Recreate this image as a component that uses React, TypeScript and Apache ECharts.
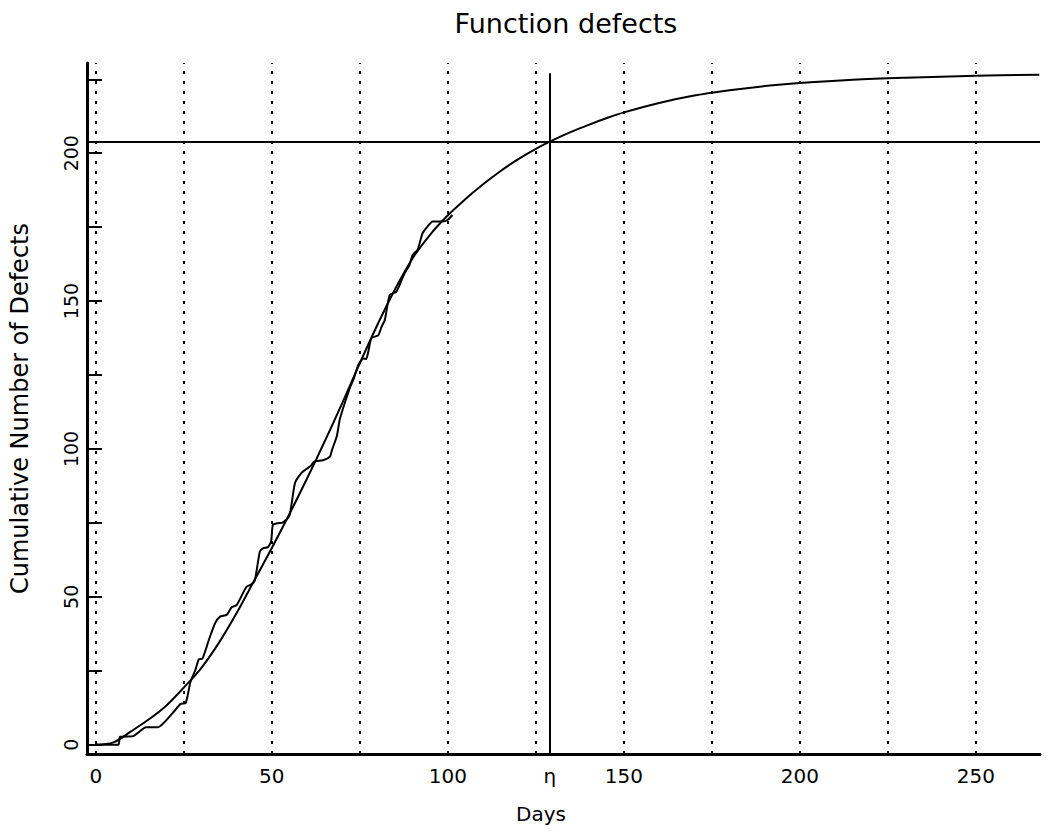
import React, { useEffect, useRef } from "react";
import * as echarts from "echarts";

// Fitted reliability-growth curve
const fitDays = [0, 5, 10, 15, 20, 25, 30, 35, 40, 45, 50, 55, 60, 65, 70, 75, 80, 85, 90, 95, 100, 105, 110, 115, 120, 125, 130, 135, 140, 145, 150, 160, 170, 180, 190, 200, 215, 230, 250, 268];
const fitDefects = [0, 0.8, 4.5, 8.5, 13.2, 19.3, 26, 34.5, 44.5, 55.5, 66.5, 78, 90, 102.5, 115.5, 129, 142, 154, 164.5, 172.5, 179, 184.5, 189.5, 194, 198, 201.5, 204.5, 207.2, 209.6, 211.8, 213.8, 217, 219.5, 221.3, 222.7, 223.7, 224.8, 225.5, 226.2, 226.5];

// Observed cumulative defects
const obsDays = [0, 6.4, 6.9, 10.6, 14.3, 17.6, 22.2, 24.1, 25.5, 26.9, 28.3, 29.3, 30.2, 32.1, 33.9, 35.3, 37.2, 38.6, 40, 42.8, 44.2, 45.2, 46.6, 47.5, 48.9, 49.8, 50.3, 51.7, 53.1, 55, 56.6, 58.5, 61.1, 62, 64.5, 66.5, 67.1, 68.5, 69.3, 70.9, 72.3, 73.2, 74.6, 76, 76.8, 77.4, 78.3, 80.2, 81.2, 82.1, 83.5, 85.4, 87.7, 89.1, 90, 91.4, 92.8, 94.2, 95.7, 98.5, 99.9, 101.3];
const obsDefects = [0, 0, 2.7, 2.9, 5.9, 5.9, 11.2, 13.8, 14, 21.3, 25.3, 28.9, 29, 35.4, 41.1, 43.3, 43.9, 46.5, 47.2, 53.4, 54.2, 55.7, 65.3, 66.4, 66.8, 68.7, 74.3, 74.9, 75.1, 77.4, 88.6, 92, 94.3, 95.7, 96.2, 97.4, 99.7, 104.5, 110, 116.2, 121.1, 123.5, 128.5, 130.6, 130.4, 132.9, 137.5, 138.4, 141.4, 143.6, 152.1, 153.2, 159.4, 162.2, 165.6, 167.3, 172.9, 175.2, 176.9, 176.9, 177.4, 179.1];

const gridDays = [0, 25, 50, 75, 100, 125, 150, 175, 200, 225, 250];
const xLabelValues = [0, 50, 100, 129, 150, 200, 250];
const yTickValues = [0, 25, 50, 75, 100, 125, 150, 175, 200, 225];
const yLabelValues = [0, 50, 100, 150, 200];
const etaDay = 129;
const etaLevel = 204;
const etaTop = 227;

const FONT = "DejaVu Sans";

export default function App() {
  const ref = useRef<HTMLDivElement>(null);
  useEffect(() => {
    if (!ref.current) return;
    const chart = echarts.init(ref.current, undefined, { renderer: "svg" });
    const fitData = fitDays.map((d, i) => [d, fitDefects[i]]);
    const obsData = obsDays.map((d, i) => [d, obsDefects[i]]);
    chart.setOption({
      animation: false,
      backgroundColor: "#ffffff",
      textStyle: { fontFamily: FONT, color: "#000" },
      grid: { left: 75, right: 8, top: 63, bottom: 80, containLabel: false },
      graphic: [
        {
          type: "text",
          x: 566,
          y: 23,
          style: { text: "Function defects", font: `27px "${FONT}"`, fill: "#000", textAlign: "center", textVerticalAlign: "middle" },
        },
        {
          type: "text",
          x: 541,
          y: 814,
          style: { text: "Days", font: `20px "${FONT}"`, fill: "#000", textAlign: "center", textVerticalAlign: "middle" },
        },
      ],
      xAxis: {
        type: "value",
        min: -2.5,
        max: 268.2,
        splitLine: { show: false },
        axisLine: { onZero: false, lineStyle: { color: "#000", width: 3 } },
        axisTick: { show: false },
        axisLabel: {
          customValues: xLabelValues,
          margin: 12,
          fontSize: 20,
          fontFamily: FONT,
          color: "#000",
          formatter: (v: number) => (v === etaDay ? "η" : String(v)),
        },
      },
      yAxis: {
        type: "value",
        min: -3.15,
        max: 230.5,
        name: "Cumulative Number of Defects",
        nameLocation: "middle",
        nameRotate: 90,
        nameGap: 55,
        nameTextStyle: { fontSize: 24, fontFamily: FONT, color: "#000" },
        splitLine: { show: false },
        axisLine: { onZero: false, lineStyle: { color: "#000", width: 3 } },
        axisTick: { customValues: yTickValues, inside: true, length: 15, lineStyle: { color: "#000", width: 2 } },
        axisLabel: {
          customValues: yLabelValues,
          rotate: 90,
          margin: 7,
          fontSize: 19,
          fontFamily: FONT,
          color: "#000",
        },
      },
      series: [
        {
          name: "grid",
          type: "line",
          data: [],
          silent: true,
          markLine: {
            silent: true,
            symbol: ["none", "none"],
            label: { show: false },
            lineStyle: { color: "#000", type: [3, 7], width: 2 },
            data: gridDays.map((d) => ({ xAxis: d })),
          },
        },
        {
          name: "eta",
          type: "line",
          data: [],
          silent: true,
          markLine: {
            silent: true,
            symbol: ["none", "none"],
            label: { show: false },
            lineStyle: { color: "#000", type: "solid", width: 2 },
            data: [
              { yAxis: etaLevel },
              [{ coord: [etaDay, -3.15] }, { coord: [etaDay, etaTop] }],
            ],
          },
        },
        {
          name: "fitted",
          type: "line",
          data: fitData,
          smooth: 0.35,
          showSymbol: false,
          symbol: "none",
          lineStyle: { color: "#000", width: 2 },
          z: 3,
        },
        {
          name: "observed",
          type: "line",
          data: obsData,
          smooth: 0.2,
          showSymbol: false,
          symbol: "none",
          lineStyle: { color: "#000", width: 2 },
          z: 3,
        },
      ],
    });
    return () => chart.dispose();
  }, []);
  return (
    <div
      ref={ref}
      style={{ position: "fixed", left: 0, top: 0, width: 1048, height: 834, background: "#fff" }}
    />
  );
}
